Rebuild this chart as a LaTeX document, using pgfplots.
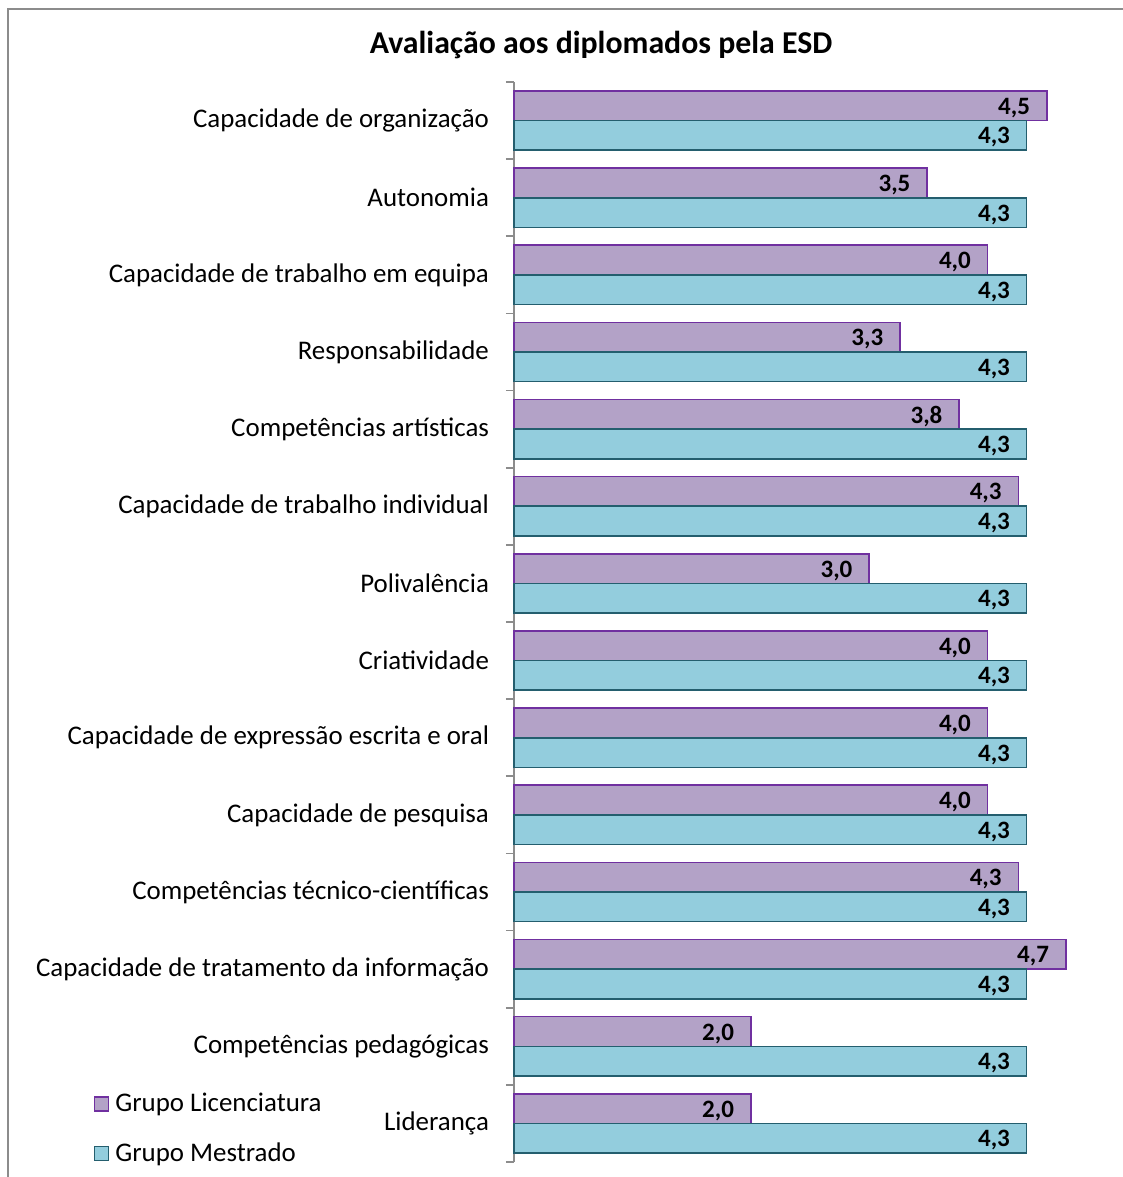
\documentclass[border=0pt]{standalone}
\usepackage{pgfplots}
\pgfplotsset{compat=1.18}
\usepackage{fontspec}
\setmainfont{Carlito}

\definecolor{licfill}{HTML}{B3A2C7}
\definecolor{licline}{HTML}{7030A0}
\definecolor{mesfill}{HTML}{93CDDD}
\definecolor{mesline}{HTML}{245E6E}
\definecolor{axgray}{HTML}{8C8C8C}

\begin{document}
\begin{tikzpicture}
% picture is 1123 x 1177 px at 0.5pt/px; plot area origin at px (514,1162)
\useasboundingbox (-257pt,-7.5pt) rectangle (304.5pt,581pt);
\draw[axgray, line width=1.2pt] (-253pt,-10pt) -- (-253pt,576.5pt) -- (306pt,576.5pt);

\begin{axis}[
    at={(0pt,0pt)}, anchor=south west,
    scale only axis,
    width=296pt, height=540pt,
    xbar=0pt,
    bar width=14.8pt,
    xmin=0, xmax=5,
    ymin=-0.5, ymax=13.5,
    y dir=reverse,
    axis x line=none,
    axis y line*=left,
    y axis line style={axgray, line width=0.9pt},
    ytick={0,...,13},
    yticklabels={
        Capacidade de organização,
        Autonomia,
        Capacidade de trabalho em equipa,
        Responsabilidade,
        Competências artísticas,
        Capacidade de trabalho individual,
        Polivalência,
        Criatividade,
        Capacidade de expressão escrita e oral,
        Capacidade de pesquisa,
        Competências técnico-científicas,
        Capacidade de tratamento da informação,
        Competências pedagógicas,
        Liderança},
    major tick length=0pt,
    yticklabel style={font=\fontsize{13.45}{15}\selectfont, xshift=-9pt},
    extra y ticks={-0.5,0.5,...,13.5},
    extra y tick labels={},
    extra y tick style={major tick length=4pt, tick align=outside,
        tick style={axgray, line width=0.9pt}},
    nodes near coords,
    nodes near coords style={anchor=east, xshift=-8pt, yshift=-1pt, inner sep=0pt,
        font=\fontsize{12.5}{14}\bfseries\selectfont, text=black,
        /pgf/number format/.cd, fixed, fixed zerofill, precision=1, use comma,
        assume math mode=true},
    title={Avaliação aos diplomados pela ESD},
    title style={font=\fontsize{15.9}{18}\bfseries\selectfont, at={(rel axis cs:0.147,1)}, anchor=south, yshift=2pt},
    legend cell align=left,
    legend style={at={(-0.721,-0.01)}, anchor=south west, draw=none, fill=none,
        font=\fontsize{13.45}{15}\selectfont, row sep=10pt,
        /tikz/every odd column/.append style={column sep=1pt}},
    legend image code/.code={\draw[#1, line width=0.9pt] (0pt,-3.5pt) rectangle (7pt,3.5pt);},
    clip=false,
]
\addplot[fill=licfill, draw=licline, line width=0.8pt, bar shift=7.4pt] coordinates {
    (4.50,0) (3.49,1) (4.00,2) (3.26,3) (3.76,4) (4.26,5) (3.00,6)
    (4.00,7) (4.00,8) (4.00,9) (4.26,10) (4.66,11) (2.00,12) (2.00,13)
};
\addlegendentry{Grupo Licenciatura}
\addplot[fill=mesfill, draw=mesline, line width=0.8pt, bar shift=-7.4pt] coordinates {
    (4.33,0) (4.33,1) (4.33,2) (4.33,3) (4.33,4) (4.33,5) (4.33,6)
    (4.33,7) (4.33,8) (4.33,9) (4.33,10) (4.33,11) (4.33,12) (4.33,13)
};
\addlegendentry{Grupo Mestrado}
\end{axis}
\end{tikzpicture}
\end{document}
